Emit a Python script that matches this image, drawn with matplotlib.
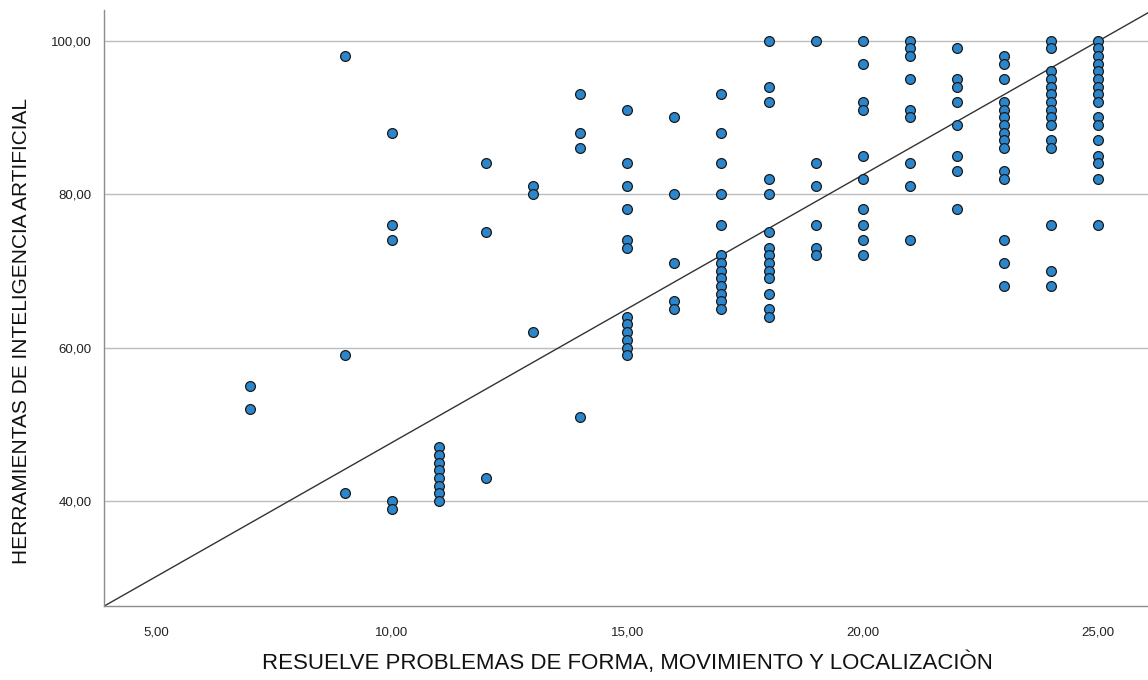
import numpy as np
import matplotlib.pyplot as plt

# Puntajes por columna (x = resuelve problemas, y = herramientas IA)
x_vals = [7, 9, 10, 11, 12, 13, 14, 15, 16, 17, 18, 19, 20, 21, 22, 23, 24, 25]
y_vals = [
    [55, 52],
    [98, 59, 41],
    [88, 76, 74, 40, 39],
    [47, 46, 45, 44, 43, 42, 41, 40],
    [84, 75, 43],
    [81, 80, 62],
    [93, 88, 86, 51],
    [91, 84, 81, 78, 74, 73, 64, 63, 62, 61, 60, 59],
    [90, 80, 71, 66, 65],
    [93, 88, 84, 80, 76, 72, 71, 70, 69, 68, 67, 66, 65],
    [100, 94, 92, 82, 80, 75, 73, 72, 71, 70, 69, 67, 65, 64],
    [100, 84, 81, 76, 73, 72],
    [100, 97, 92, 91, 85, 82, 78, 76, 74, 72],
    [100, 99, 98, 95, 91, 90, 84, 81, 74],
    [99, 95, 94, 92, 89, 85, 83, 78],
    [98, 97, 95, 92, 91, 90, 89, 88, 87, 86, 83, 82, 74, 71, 68],
    [100, 99, 96, 95, 94, 93, 92, 91, 90, 89, 87, 86, 76, 70, 68],
    [100, 99, 98, 97, 96, 95, 94, 93, 92, 90, 89, 87, 85, 84, 82, 76],
]

# Recta de ajuste total
fit_intercept = 12.7
fit_slope = 3.49

xs = np.concatenate([[x] * len(ys) for x, ys in zip(x_vals, y_vals)])
ys = np.concatenate(y_vals)

plt.rcParams['font.family'] = ['Liberation Sans', 'DejaVu Sans']

fig = plt.figure(figsize=(11.48, 6.8), dpi=100)
ax = fig.add_axes([104 / 1148, 74 / 680, 1 - 104 / 1148 + 0.01, (606 - 10) / 680])

ax.set_xlim(3.89, 26.3)
ax.set_ylim(26.3, 104.0)

for y in [40, 60, 80, 100]:
    ax.axhline(y, color='#bcbcbc', linewidth=1.0, zorder=0)

xl = np.array(ax.get_xlim())
ax.plot(xl, fit_intercept + fit_slope * xl, color='#333333', linewidth=1.0, zorder=2)

ax.scatter(xs, ys, s=50, facecolor='#2c86cc', edgecolor='#1a1a1a', linewidth=0.9, zorder=3)

ax.set_xticks([5, 10, 15, 20, 25])
ax.set_xticklabels(['5,00', '10,00', '15,00', '20,00', '25,00'])
ax.set_yticks([40, 60, 80, 100])
ax.set_yticklabels(['40,00', '60,00', '80,00', '100,00'])
ax.tick_params(length=0, labelsize=9.5, colors='#222222')
ax.tick_params(axis='y', pad=9)
ax.tick_params(axis='x', pad=15)

for side in ['top', 'right']:
    ax.spines[side].set_visible(False)
for side in ['left', 'bottom']:
    ax.spines[side].set_color('#8c8c8c')
    ax.spines[side].set_linewidth(1.0)

fig.text(627 / 1148, 1 - 663 / 680, 'RESUELVE PROBLEMAS DE FORMA, MOVIMIENTO Y LOCALIZACIÒN',
         ha='center', va='center', fontsize=16, color='#111111')
fig.text(22 / 1148, 1 - 331 / 680, 'HERRAMIENTAS DE INTELIGENCIA ARTIFICIAL',
         ha='center', va='center', rotation=90, fontsize=15, color='#111111')

fig.savefig('out.png', dpi=100)
